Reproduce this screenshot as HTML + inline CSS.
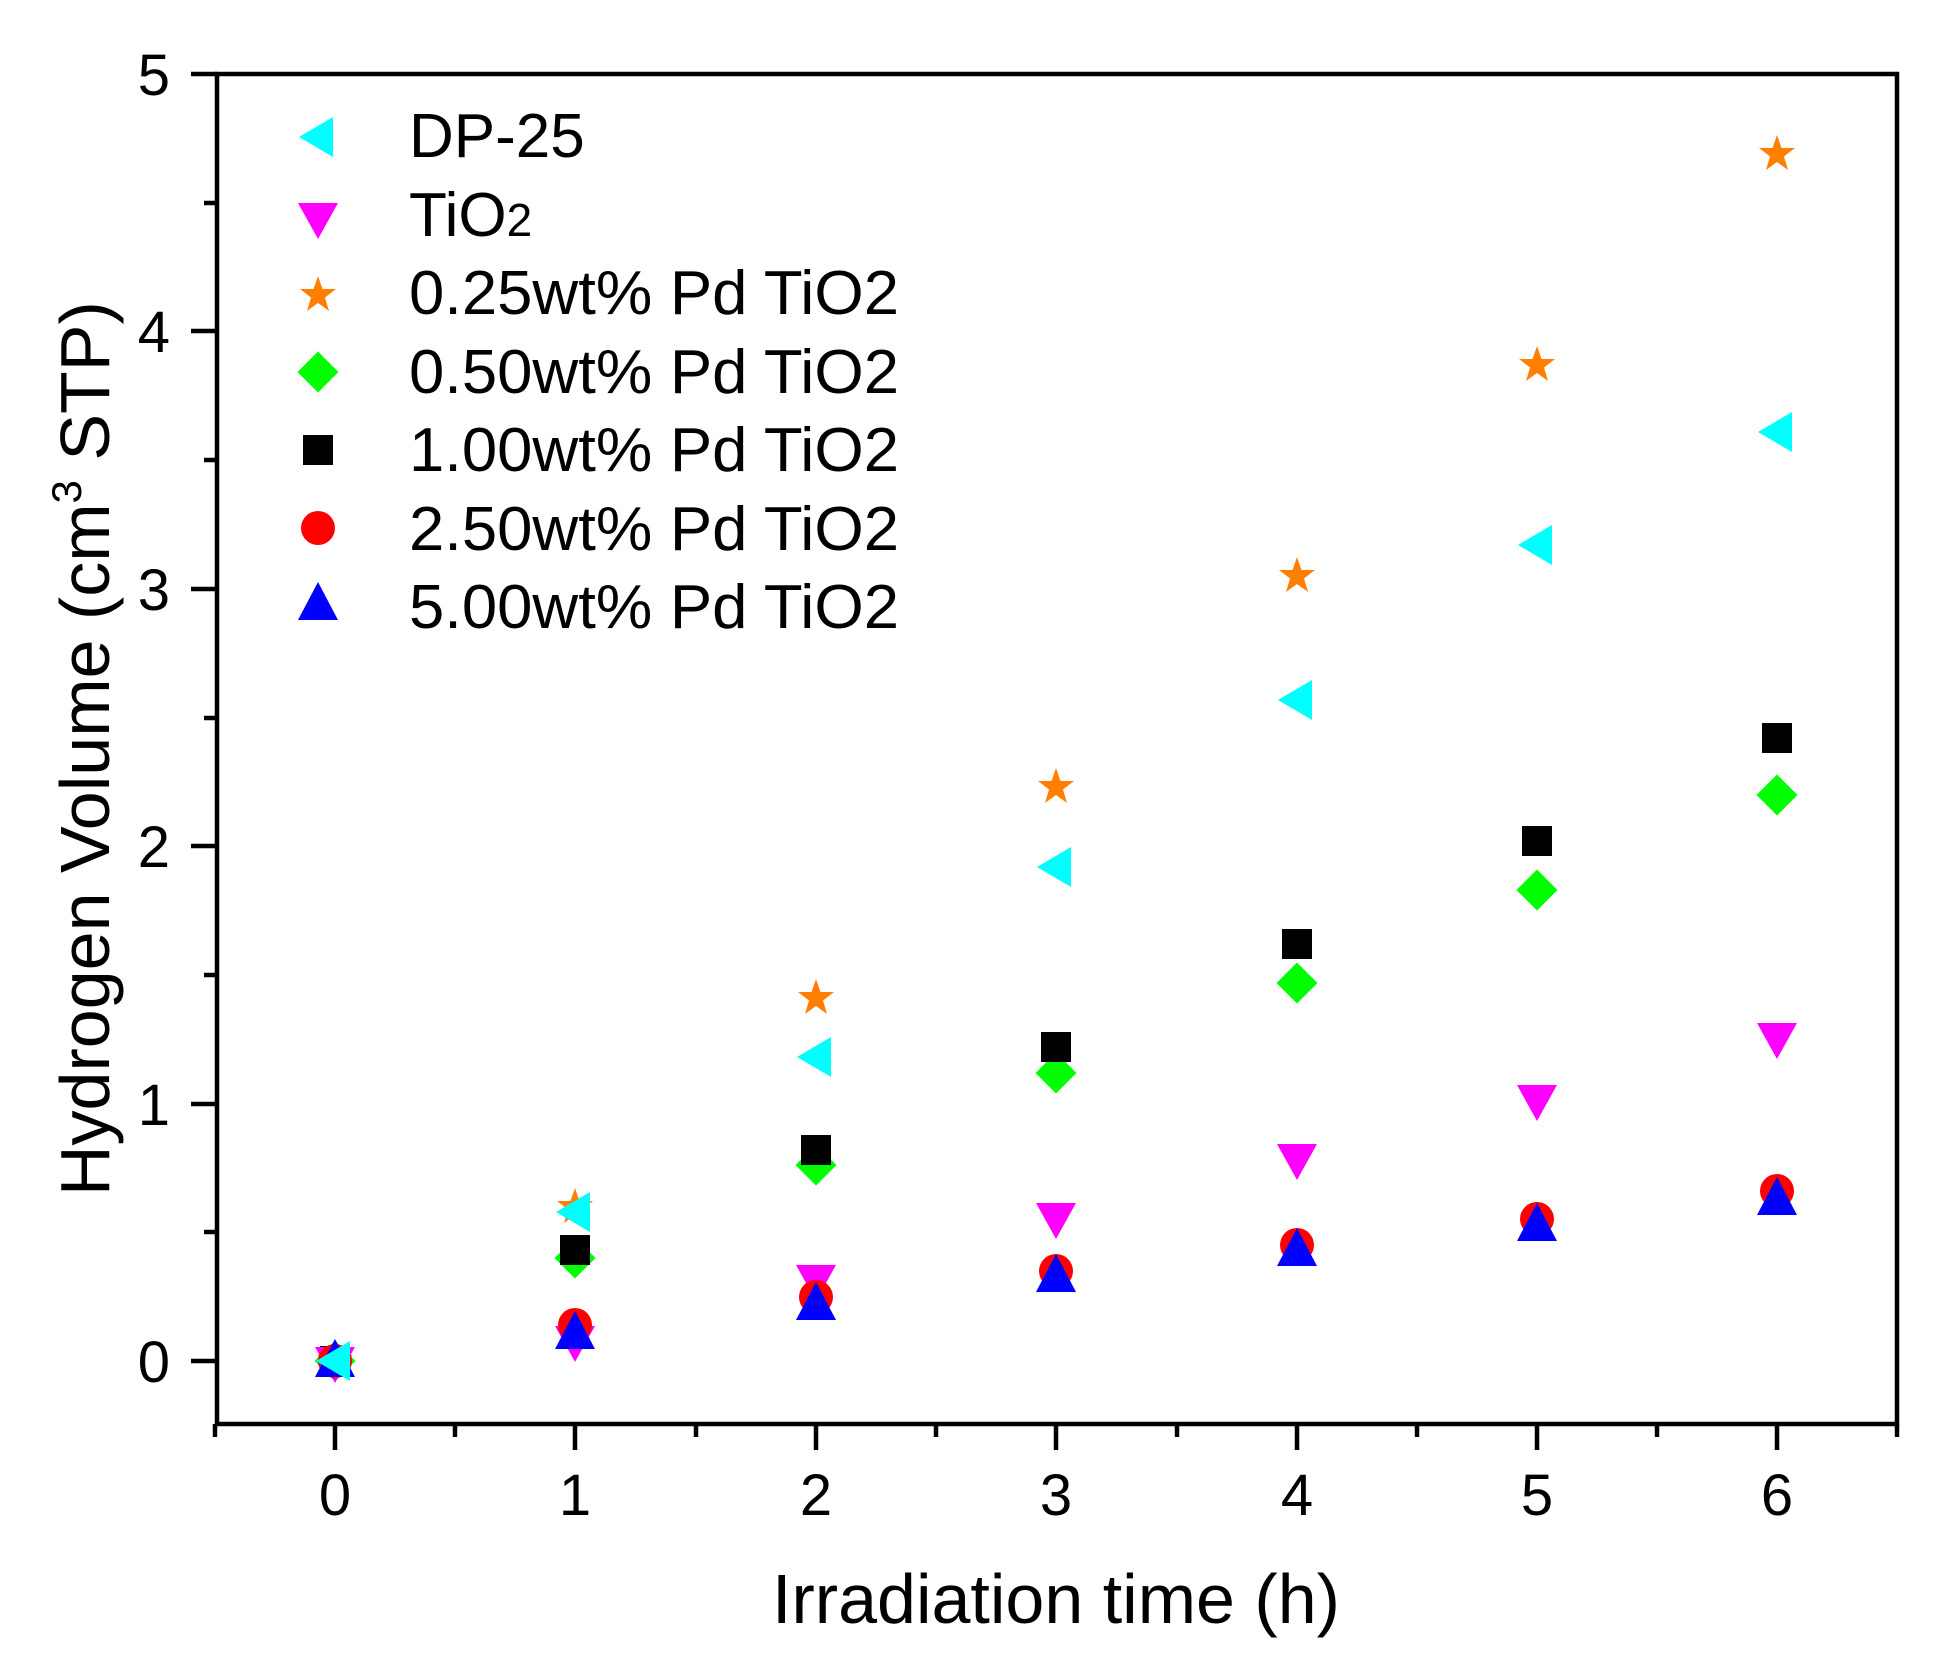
<!DOCTYPE html>
<html><head><meta charset="utf-8"><style>html,body{margin:0;padding:0;background:#fff}svg{display:block}</style></head>
<body>
<svg width="1959" height="1666" viewBox="0 0 1959 1666" xmlns="http://www.w3.org/2000/svg" font-family="Liberation Sans, Arial, sans-serif">
<defs>
<polygon id="lt" points="-19,0 15,-20 15,20" fill="#00ffff"/>
<polygon id="dt" points="-20,-14 20,-14 0,22" fill="#ff00ff"/>
<polygon id="ut" points="-20,16 20,16 0,-22" fill="#0000ff"/>
<polygon id="st" points="0,-19 4.5,-6 18,-6 7,2.5 11,16 0,8 -11,16 -7,2.5 -18,-6 -4.5,-6" fill="#ff8000"/>
<polygon id="dm" points="0,-20.5 20.5,0 0,20.5 -20.5,0" fill="#00ff00"/>
<rect id="sq" x="-15" y="-15" width="30" height="30" fill="#000"/>
<circle id="ci" r="17" fill="#ff0000"/>
</defs>
<g stroke="#000" stroke-width="4.5" fill="none">
<rect x="217" y="74" width="1680" height="1350"/>
<path d="M191 1361H217M191 1104H217M191 846H217M191 589H217M191 331H217M191 74H217"/>
<path d="M204 1232H217M204 975H217M204 718H217M204 460H217M204 203H217"/>
<path d="M335 1424V1450M575 1424V1450M816 1424V1450M1056 1424V1450M1297 1424V1450M1537 1424V1450M1777 1424V1450"/>
<path d="M215 1424V1437M455 1424V1437M696 1424V1437M936 1424V1437M1177 1424V1437M1417 1424V1437M1657 1424V1437M1897 1424V1437"/>
</g>
<g font-size="58" text-anchor="end">
<text x="170" y="1382">0</text><text x="170" y="1125">1</text><text x="170" y="867">2</text><text x="170" y="610">3</text><text x="170" y="352">4</text><text x="170" y="95">5</text>
</g>
<g font-size="58" text-anchor="middle">
<text x="335" y="1515">0</text><text x="575" y="1515">1</text><text x="816" y="1515">2</text><text x="1056" y="1515">3</text><text x="1297" y="1515">4</text><text x="1537" y="1515">5</text><text x="1777" y="1515">6</text>
</g>
<text x="1056" y="1623" font-size="70" text-anchor="middle">Irradiation time (h)</text>
<text transform="translate(109,1196) rotate(-90)" font-size="70">Hydrogen Volume (cm<tspan dy="-28" font-size="42">3</tspan><tspan dy="28"> STP)</tspan></text>
<use href="#lt" x="318" y="137"/>
<use href="#dt" x="318" y="217"/>
<use href="#st" x="318" y="295"/>
<use href="#dm" x="318" y="372"/>
<use href="#sq" x="318" y="450"/>
<use href="#ci" x="318" y="528"/>
<use href="#ut" x="318" y="604"/>
<g font-size="62">
<text x="409" y="157">DP-25</text>
<text x="409" y="236">TiO<tspan font-size="46">2</tspan></text>
<text x="409" y="314" textLength="490" lengthAdjust="spacingAndGlyphs">0.25wt% Pd TiO2</text>
<text x="409" y="393" textLength="490" lengthAdjust="spacingAndGlyphs">0.50wt% Pd TiO2</text>
<text x="409" y="471" textLength="490" lengthAdjust="spacingAndGlyphs">1.00wt% Pd TiO2</text>
<text x="409" y="550" textLength="490" lengthAdjust="spacingAndGlyphs">2.50wt% Pd TiO2</text>
<text x="409" y="628" textLength="490" lengthAdjust="spacingAndGlyphs">5.00wt% Pd TiO2</text>
</g>
<use href="#st" x="335" y="1361"/><use href="#st" x="575" y="1207"/><use href="#st" x="816" y="998"/><use href="#st" x="1056" y="787"/><use href="#st" x="1297" y="576"/><use href="#st" x="1537" y="365"/><use href="#st" x="1777" y="154"/>
<use href="#lt" x="1056" y="867"/><use href="#lt" x="1297" y="700"/><use href="#lt" x="1537" y="545"/><use href="#lt" x="1777" y="432"/><use href="#lt" x="816" y="1057"/>
<use href="#dm" x="335" y="1361"/><use href="#dm" x="575" y="1258"/><use href="#dm" x="816" y="1165"/><use href="#dm" x="1056" y="1073"/><use href="#dm" x="1297" y="983"/><use href="#dm" x="1537" y="890"/><use href="#dm" x="1777" y="795"/>
<use href="#sq" x="335" y="1361"/><use href="#sq" x="575" y="1250"/><use href="#sq" x="816" y="1150"/><use href="#sq" x="1056" y="1047"/><use href="#sq" x="1297" y="944"/><use href="#sq" x="1537" y="841"/><use href="#sq" x="1777" y="738"/>
<use href="#dt" x="335" y="1361"/><use href="#dt" x="575" y="1340"/><use href="#dt" x="816" y="1279"/><use href="#dt" x="1056" y="1217"/><use href="#dt" x="1297" y="1158"/><use href="#dt" x="1537" y="1099"/><use href="#dt" x="1777" y="1037"/>
<use href="#ci" x="335" y="1361"/><use href="#ci" x="575" y="1325"/><use href="#ci" x="816" y="1297"/><use href="#ci" x="1056" y="1271"/><use href="#ci" x="1297" y="1245"/><use href="#ci" x="1537" y="1219"/><use href="#ci" x="1777" y="1191"/>
<use href="#ut" x="335" y="1361"/><use href="#ut" x="575" y="1333"/><use href="#ut" x="816" y="1304"/><use href="#ut" x="1056" y="1276"/><use href="#ut" x="1297" y="1250"/><use href="#ut" x="1537" y="1225"/><use href="#ut" x="1777" y="1199"/>
<use href="#lt" x="335" y="1361"/><use href="#lt" x="575" y="1212"/>
</svg>
</body></html>
